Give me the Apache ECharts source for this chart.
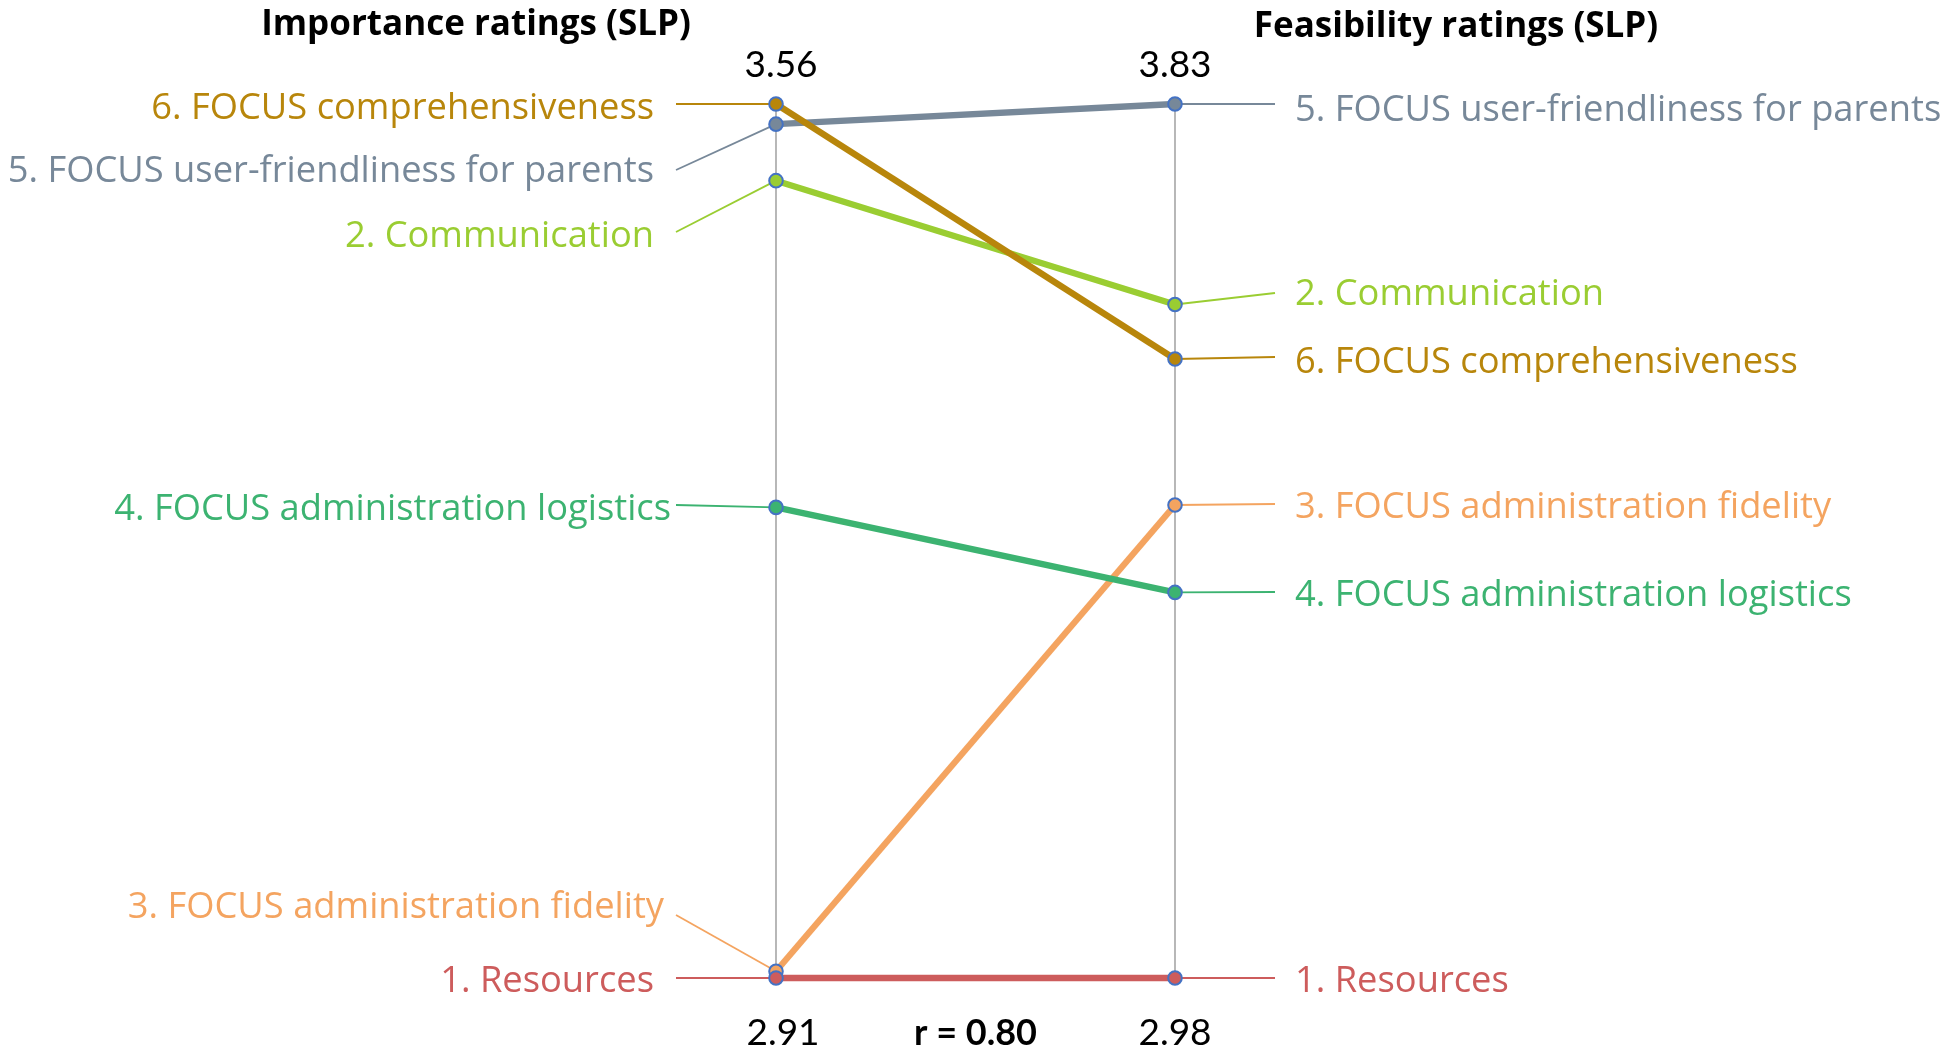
<!DOCTYPE html>
<html><head><meta charset="utf-8">
<script src="https://cdn.jsdelivr.net/npm/echarts@6/dist/echarts.min.js"></script>
<style>html,body{margin:0;padding:0;background:#fff}#c{width:1946px;height:1049px}</style>
</head><body><div id="c"></div>
<script>
// ---------- data ----------
const items = [
  '1. Resources',
  '2. Communication',
  '3. FOCUS administration fidelity',
  '4. FOCUS administration logistics',
  '5. FOCUS user-friendliness for parents',
  '6. FOCUS comprehensiveness'
];
const importance  = [2.91, 3.503, 2.915, 3.26, 3.545, 3.56];
const feasibility = [2.98, 3.635, 3.44, 3.355, 3.83, 3.582];
const importanceRange  = [2.91, 3.56];
const feasibilityRange = [2.98, 3.83];
const axisTitles = ['Importance ratings (SLP)', 'Feasibility ratings (SLP)'];
const topTickLabels    = ['3.56', '', '3.83'];
const bottomTickLabels = ['2.91', 'r = 0.80', '2.98'];

// ---------- styles / layout ----------
const colors = ['#CD5C5C', '#9ACD32', '#F4A460', '#3CB371', '#778899', '#B8860B'];
const FONT = '"Open Sans", Lato, sans-serif';
const NUM_FONT = 'Lato, "Open Sans", sans-serif';
const LEFT_X = 776, RIGHT_X = 1175, TOP_Y = 104, BOTTOM_Y = 978;
const W = 1946, H = 1049;
// label placement (pixels)
const leftLabelY   = [982, 237, 908, 510, 172, 109];
const leftLeaderY  = [978, 232, 915, 505, 170, 104];
const leftTextX    = [654, 654, 664, 671, 654, 654];
const rightLabelY  = [982, 295, 508, 596, 111, 363];
const rightLeaderY = [978, 293, 504, 592, 104, 357];
const LABEL_SIZE = 36.3;

const chart = echarts.init(document.getElementById('c'), null, {renderer: 'canvas'});

function sideRender(side) {
  return function (params, api) {
    const i = params.dataIndex;
    const p = api.coord([api.value(0), api.value(1)]);
    const left = side === 'left';
    const leaderEndX = left ? p[0] - 100 : p[0] + 100;
    const leaderEndY = left ? leftLeaderY[i] : rightLeaderY[i];
    return {
      type: 'group',
      children: [
        {type: 'line', z2: 1,
         shape: {x1: p[0], y1: p[1], x2: leaderEndX, y2: leaderEndY},
         style: {stroke: colors[i], lineWidth: 1.8}},
        {type: 'text', z2: 1,
         style: {text: items[i], x: left ? leftTextX[i] : p[0] + 120,
                 y: left ? leftLabelY[i] : rightLabelY[i],
                 align: left ? 'right' : 'left', verticalAlign: 'middle',
                 fill: colors[i], fontSize: LABEL_SIZE, fontFamily: FONT}},
        {type: 'circle', z2: 100 - i,
         shape: {cx: p[0], cy: p[1], r: 6.8},
         style: {fill: colors[i], stroke: '#4472C4', lineWidth: 2}}
      ]
    };
  };
}

const gridRect = {left: LEFT_X, right: W - RIGHT_X, top: TOP_Y, bottom: H - BOTTOM_Y,
                  containLabel: false, outerBoundsMode: 'none'};
const hiddenParallelAxis = {
  axisLine: {lineStyle: {color: '#A6A6A6', width: 1.6}},
  axisTick: {show: false},
  axisLabel: {show: false, color: 'rgba(0,0,0,0)', formatter: function () { return ''; }},
  splitLine: {show: false},
  nameTextStyle: {color: 'rgba(0,0,0,0)'}
};

const option = {
  backgroundColor: '#ffffff',
  animation: false,
  graphic: [
    {type: 'text', x: 476, y: 25, style: {text: axisTitles[0], align: 'center', verticalAlign: 'middle',
      fontSize: 35, fontWeight: 'bold', fontFamily: FONT, fill: '#000'}},
    {type: 'text', x: 1456, y: 27, style: {text: axisTitles[1], align: 'center', verticalAlign: 'middle',
      fontSize: 35, fontWeight: 'bold', fontFamily: FONT, fill: '#000'}}
  ],
  parallel: {left: LEFT_X, right: W - RIGHT_X, top: TOP_Y, bottom: H - BOTTOM_Y, layout: 'horizontal',
             parallelAxisDefault: hiddenParallelAxis},
  parallelAxis: [
    Object.assign({dim: 0, name: '', min: importanceRange[0], max: importanceRange[1]}, hiddenParallelAxis),
    Object.assign({dim: 1, name: '', min: feasibilityRange[0], max: feasibilityRange[1]}, hiddenParallelAxis)
  ],
  grid: [Object.assign({}, gridRect), Object.assign({}, gridRect)],
  xAxis: [
    {gridIndex: 0, type: 'value', min: 0, max: 1, interval: 0.5, position: 'bottom',
     axisLine: {show: false}, axisTick: {show: false}, splitLine: {show: false},
     axisLabel: {show: true, showMinLabel: true, showMaxLabel: true, margin: 37,
       color: '#000', fontSize: 37, fontFamily: NUM_FONT,
       formatter: function (v) {
         const k = Math.round(v * 2);
         const t = bottomTickLabels[k];
         return k === 1 ? '{b|' + t + '}' : k === 0 ? '{l|' + t + '}' : t;
       },
       rich: {b: {fontWeight: 'bold', fontSize: 36, fontFamily: NUM_FONT, color: '#000'},
              l: {fontSize: 37, fontFamily: NUM_FONT, color: '#000', padding: [0, 0, 0, 14]}}}},
    {gridIndex: 0, type: 'value', min: 0, max: 1, interval: 0.5, position: 'top',
     axisLine: {show: false}, axisTick: {show: false}, splitLine: {show: false},
     axisLabel: {show: true, showMinLabel: true, showMaxLabel: true, margin: 20,
       color: '#000', fontSize: 37, fontFamily: NUM_FONT,
       formatter: function (v) {
         const k = Math.round(v * 2);
         return k === 0 ? '{l|' + topTickLabels[k] + '}' : topTickLabels[k];
       },
       rich: {l: {fontSize: 37, fontFamily: NUM_FONT, color: '#000', padding: [0, 0, 0, 10]}}}},
    {gridIndex: 1, type: 'value', min: 0, max: 1, show: false}
  ],
  yAxis: [
    {gridIndex: 0, type: 'value', min: importanceRange[0], max: importanceRange[1], show: false},
    {gridIndex: 1, type: 'value', min: feasibilityRange[0], max: feasibilityRange[1], show: false}
  ],
  series: [
    {type: 'parallel', z: 3, silent: true, smooth: false,
     lineStyle: {opacity: 1, width: 6.3},
     inactiveOpacity: 1, activeOpacity: 1,
     data: items.map((n, i) => ({value: [importance[i], feasibility[i]],
       lineStyle: {color: colors[i], width: 6.3, opacity: 1}}))},
    {type: 'custom', z: 10, silent: true, xAxisIndex: 0, yAxisIndex: 0,
     renderItem: sideRender('left'), data: importance.map(v => [0, v])},
    {type: 'custom', z: 10, silent: true, xAxisIndex: 2, yAxisIndex: 1,
     renderItem: sideRender('right'), data: feasibility.map(v => [1, v])}
  ]
};
chart.setOption(option);
</script></body></html>
